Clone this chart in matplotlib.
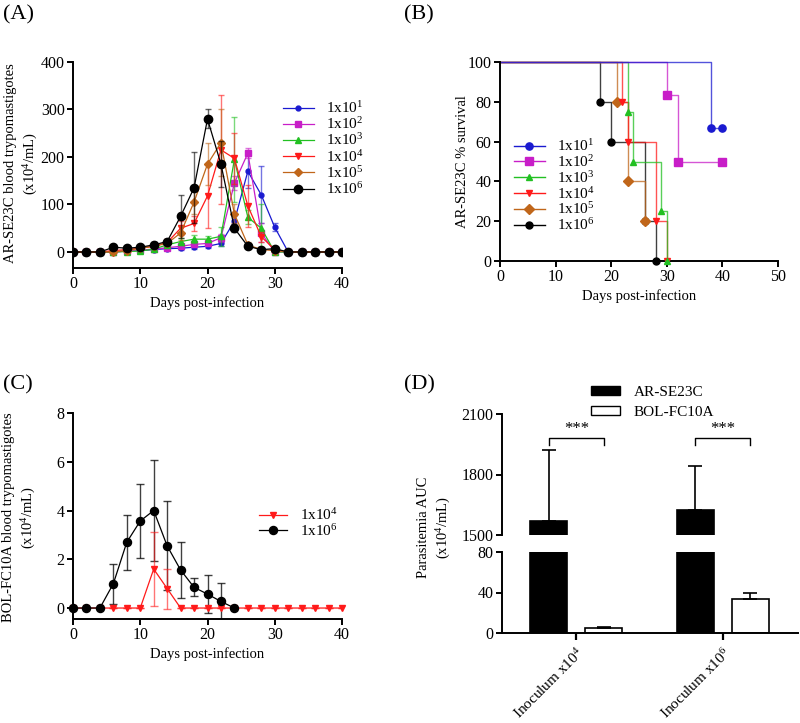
import matplotlib
matplotlib.use('Agg')
import matplotlib.pyplot as plt
from matplotlib.patches import Patch
import numpy as np

plt.rcParams['font.family'] = ['Liberation Serif', 'DejaVu Serif']
plt.rcParams['mathtext.fontset'] = 'custom'
plt.rcParams['mathtext.rm'] = 'Liberation Serif'
plt.rcParams['mathtext.default'] = 'regular'

# ---------------- data ----------------
labels6 = ['1x10$^{1}$', '1x10$^{2}$', '1x10$^{3}$', '1x10$^{4}$', '1x10$^{5}$', '1x10$^{6}$']
colors6 = ['#1a1ad0', '#c81ec8', '#22c022', '#ff1a1a', '#c0661a', '#000000']
markers6 = ['o', 's', '^', 'v', 'D', 'o']

daysA = list(range(0, 41, 2))
a_1e1 = [0, 0, 0, 0, 2, 3, 5, 7, 8, 10, 12, 18, 65, 170, 120, 52, 0, 0, 0, 0, 0]
a_1e1_err = [0, 0, 0, 0, 1, 1, 2, 2, 3, 3, 4, 5, 10, 35, 60, 8, 0, 0, 0, 0, 0]
a_1e2 = [0, 0, 0, 0, 2, 4, 6, 9, 12, 16, 18, 30, 145, 208, 40, 0, 0, 0, 0, 0, 0]
a_1e2_err = [0, 0, 0, 0, 1, 2, 2, 3, 4, 5, 6, 8, 15, 10, 20, 0, 0, 0, 0, 0, 0]
a_1e3 = [0, 0, 0, 0, 1, 2, 6, 15, 22, 27, 27, 33, 195, 73, 50, 0, 0, 0, 0, 0, 0]
a_1e3_err = [0, 0, 0, 0, 1, 1, 2, 4, 8, 8, 6, 20, 90, 15, 50, 0, 0, 0, 0, 0, 0]
a_1e4 = [0, 0, 0, 3, 5, 8, 12, 20, 50, 60, 118, 215, 197, 97, 32, 5, 0, 0, 0, 0, 0]
a_1e4_err = [0, 0, 0, 1, 2, 2, 3, 5, 15, 15, 68, 115, 53, 45, 10, 2, 0, 0, 0, 0, 0]
a_1e5 = [0, 0, 0, 0, 3, 8, 12, 18, 40, 105, 185, 230, 80, 15, 5, 3, 0, 0, 0, 0, 0]
a_1e5_err = [0, 0, 0, 0, 1, 2, 3, 4, 15, 25, 45, 70, 20, 5, 2, 1, 0, 0, 0, 0, 0]
a_1e6 = [0, 0, 0, 10, 8, 10, 15, 22, 75, 135, 280, 185, 50, 12, 5, 7, 0, 0, 0, 0, 0]
a_1e6_err = [0, 0, 0, 3, 3, 3, 5, 5, 45, 75, 20, 48, 8, 3, 2, 2, 0, 0, 0, 0, 0]

# survival (Kaplan-Meier steps)
b_1e1_t = [0, 38, 40];            b_1e1_s = [100, 66.7, 66.7]
b_1e2_t = [0, 30, 32, 40];        b_1e2_s = [100, 83.3, 50, 50]
b_1e3_t = [0, 23, 24, 29, 30];    b_1e3_s = [100, 75, 50, 25, 0]
b_1e4_t = [0, 22, 23, 28, 30];    b_1e4_s = [100, 80, 60, 20, 0]
b_1e5_t = [0, 21, 23, 26];        b_1e5_s = [100, 80, 40, 20]
b_1e6_t = [0, 18, 20, 26, 28];    b_1e6_s = [100, 80, 60, 20, 0]

# panel C
daysC_1e4 = list(range(0, 41, 2))
c_1e4 = [0, 0, 0, 0, 0, 0, 1.6, 0.8, 0, 0, 0, 0, 0, 0, 0, 0, 0, 0, 0, 0, 0]
c_1e4_err = [0, 0, 0, 0, 0, 0, 1.5, 0.82, 0, 0, 0, 0, 0, 0, 0, 0, 0, 0, 0, 0, 0]
daysC_1e6 = list(range(0, 25, 2))
c_1e6 = [0, 0, 0, 1.0, 2.7, 3.57, 4.0, 2.55, 1.56, 0.85, 0.57, 0.27, 0]
c_1e6_err = [0, 0, 0, 0.82, 1.12, 1.5, 2.07, 1.82, 1.14, 0.37, 0.78, 0.75, 0]

# panel D
groupsD = ['Inoculum x10$^{4}$', 'Inoculum x10$^{6}$']
d_ar = [1570, 1625]
d_ar_err = [350, 215]
d_bol = [5, 34]
d_bol_err = [1, 5.5]

# ---------------- layout helpers ----------------
fig = plt.figure(figsize=(8, 7.23), dpi=100)

def frac(l, t, r, b):
    return [l / 800, 1 - b / 723, (r - l) / 800, (b - t) / 723]

def style(ax):
    for s in ['top', 'right']:
        ax.spines[s].set_visible(False)
    for s in ['left', 'bottom']:
        ax.spines[s].set_linewidth(1.4)
    ax.tick_params(direction='out', length=4, width=1.4, labelsize=11.5, pad=2)

# ---------------- Panel A ----------------
axA = fig.add_axes(frac(73, 62, 342, 268))
style(axA)
seriesA = [(a_1e1, a_1e1_err), (a_1e2, a_1e2_err), (a_1e3, a_1e3_err),
           (a_1e4, a_1e4_err), (a_1e5, a_1e5_err), (a_1e6, a_1e6_err)]
msA = [3.5, 3.8, 4.2, 4.6, 4.4, 6.0]
for i, (vals, err) in enumerate(seriesA):
    axA.errorbar(daysA, vals, yerr=err, fmt='none', ecolor=colors6[i], alpha=0.6,
                 elinewidth=1.0, capsize=2.5, capthick=1.0, zorder=2 + i)
    axA.plot(daysA, vals, color=colors6[i], marker=markers6[i], ms=msA[i], lw=0.9,
             label=labels6[i], zorder=3 + i)
axA.set_xlim(0, 40)
axA.set_ylim(-33.7, 400)
axA.set_xticks([0, 10, 20, 30, 40])
axA.set_yticks([0, 100, 200, 300, 400])
axA.set_xlabel('Days post-infection', fontsize=10.5, labelpad=3)
axA.legend(loc='upper left', bbox_to_anchor=(283 / 800, 1 - 100 / 723),
           bbox_transform=fig.transFigure, frameon=False, fontsize=11,
           handlelength=2.0, handletextpad=0.8, labelspacing=0.02,
           borderpad=0, borderaxespad=0)
fig.text(22 / 800, 1 - 163 / 723, 'AR-SE23C blood trypomastigotes\n(x10$^{4}$/mL)',
         rotation=90, ha='center', va='center', fontsize=10.5, linespacing=1.4)

# ---------------- Panel B ----------------
axB = fig.add_axes(frac(500, 62, 778, 261))
style(axB)
seriesB = [(b_1e1_t, b_1e1_s), (b_1e2_t, b_1e2_s), (b_1e3_t, b_1e3_s),
           (b_1e4_t, b_1e4_s), (b_1e5_t, b_1e5_s), (b_1e6_t, b_1e6_s)]
msB = [5.2, 5.2, 5.0, 4.8, 5.0, 5.0]
order = [5, 4, 3, 2, 1, 0]
for i in order:
    t, s = seriesB[i]
    axB.step(t, s, where='post', color=colors6[i], lw=1.0, alpha=0.75, zorder=2,
             clip_on=False)
    axB.plot(t[1:], s[1:], ls='none', marker=markers6[i], ms=msB[i],
             color=colors6[i], zorder=4, clip_on=False)
# legend proxies
for i in range(6):
    axB.plot([], [], color=colors6[i], marker=markers6[i], ms=msB[i], lw=1.0,
             label=labels6[i])
axB.set_xlim(0, 50)
axB.set_ylim(0, 100)
axB.set_xticks([0, 10, 20, 30, 40, 50])
axB.set_yticks([0, 20, 40, 60, 80, 100])
axB.set_xlabel('Days post-infection', fontsize=10.5, labelpad=3)
axB.legend(loc='upper left', bbox_to_anchor=(514 / 800, 1 - 138 / 723),
           bbox_transform=fig.transFigure, frameon=False, fontsize=11,
           handlelength=2.0, handletextpad=0.8, labelspacing=0.0,
           borderpad=0, borderaxespad=0)
fig.text(463 / 800, 1 - 162 / 723, 'AR-SE23C % survival', rotation=90,
         ha='center', va='center', fontsize=10.5)

# ---------------- Panel C ----------------
axC = fig.add_axes(frac(73, 413, 342, 619))
style(axC)
axC.errorbar(daysC_1e6, c_1e6, yerr=c_1e6_err, fmt='none', ecolor='#000000', alpha=0.75,
             elinewidth=1.0, capsize=3, capthick=1.0, zorder=2)
axC.errorbar(daysC_1e4, c_1e4, yerr=c_1e4_err, fmt='none', ecolor='#ff1a1a', alpha=0.6,
             elinewidth=1.0, capsize=3, capthick=1.0, zorder=3)
axC.plot(daysC_1e4, c_1e4, color='#ff1a1a', marker='v', ms=5, lw=0.9,
         label='1x10$^{4}$', zorder=4, clip_on=False)
axC.plot(daysC_1e6, c_1e6, color='#000000', marker='o', ms=5.8, lw=0.9,
         label='1x10$^{6}$', zorder=5, clip_on=False)
axC.set_xlim(0, 40)
axC.set_ylim(-0.45, 8)
axC.set_xticks([0, 10, 20, 30, 40])
axC.set_yticks([0, 2, 4, 6, 8])
axC.set_xlabel('Days post-infection', fontsize=10.5, labelpad=3)
axC.legend(loc='upper left', bbox_to_anchor=(259 / 800, 1 - 507 / 723),
           bbox_transform=fig.transFigure, frameon=False, fontsize=11,
           handlelength=1.8, handletextpad=0.9, labelspacing=0.0,
           borderpad=0, borderaxespad=0)
fig.text(20 / 800, 1 - 517 / 723, 'BOL-FC10A blood trypomastigotes\n(x10$^{4}$/mL)',
         rotation=90, ha='center', va='center', fontsize=10.5, linespacing=1.4)

# ---------------- Panel D (broken axis) ----------------
gx = np.arange(len(groupsD))
off = 0.188
bw = 0.253
axDl = fig.add_axes(frac(502, 552, 798, 633))
axDu = fig.add_axes(frac(502, 414, 798, 535))
for ax in (axDl, axDu):
    style(ax)
    ax.bar(gx - off, d_ar, width=bw, color='black', edgecolor='black', lw=1.2, zorder=2)
    ax.bar(gx + off, d_bol, width=bw, color='white', edgecolor='black', lw=1.2, zorder=2)
    ax.set_xlim(-0.507, 1.514)
axDl.errorbar(gx + off, d_bol, yerr=[[0, 0], d_bol_err], fmt='none', ecolor='black',
              elinewidth=1.2, capsize=5, capthick=1.2, zorder=3)
axDu.errorbar(gx - off, d_ar, yerr=[[0, 0], d_ar_err], fmt='none', ecolor='black',
              elinewidth=1.2, capsize=5, capthick=1.2, zorder=3)
axDl.set_ylim(0, 80)
axDl.set_yticks([0, 40, 80])
axDl.set_xticks(gx)
axDl.set_xticklabels(groupsD, rotation=45, ha='right', rotation_mode='anchor',
                     fontsize=11)
axDl.tick_params(axis='x', length=5, width=1.6, pad=4)
axDu.set_ylim(1500, 2100)
axDu.set_yticks([1500, 1800, 2100])
axDu.spines['bottom'].set_visible(False)
axDu.set_xticks([])
# significance brackets
for g in gx:
    x0, x1 = g - off, g + off
    axDu.plot([x0, x0, x1, x1], [1946, 1981, 1981, 1946], color='black', lw=1.0,
              clip_on=False)
    axDu.text(g, 1985, '***', ha='center', va='bottom', fontsize=12)
legD = [Patch(facecolor='black', edgecolor='black', label='AR-SE23C'),
        Patch(facecolor='white', edgecolor='black', label='BOL-FC10A')]
fig.legend(handles=legD, loc='upper left', bbox_to_anchor=(591 / 800, 1 - 386 / 723),
           frameon=False, fontsize=11, handlelength=1.9, handleheight=0.55,
           handletextpad=0.9, labelspacing=0.45, borderpad=0, borderaxespad=0)
fig.text(435 / 800, 1 - 527 / 723, 'Parasitemia AUC\n(x10$^{4}$/mL)', rotation=90,
         ha='center', va='center', fontsize=10.5, linespacing=1.4)

# ---------------- panel letters ----------------
for x, y, s in [(3, 15, '(A)'), (404, 15, '(B)'), (3, 385, '(C)'), (404, 385, '(D)')]:
    fig.text(x / 800, 1 - y / 723, s, ha='left', va='center', fontsize=16)

fig.savefig('out.png', dpi=100)
